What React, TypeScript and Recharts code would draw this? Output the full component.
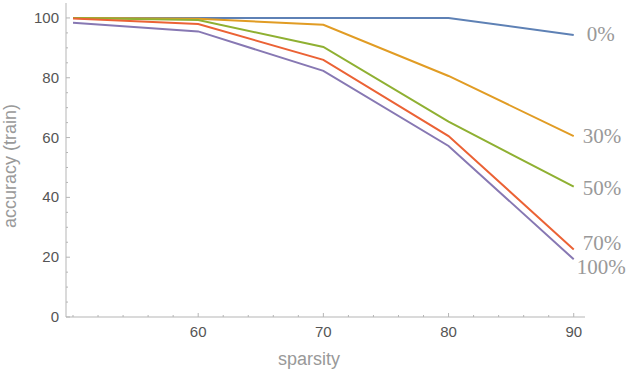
import { LineChart, Line, XAxis, YAxis, LabelList } from 'recharts';

// sparsity levels on the x axis
const sparsity = [50, 60, 70, 80, 90];

// train accuracy per pruning share
const acc0 = [100, 100, 100, 100, 94.3];
const acc30 = [100, 99.7, 97.7, 80.6, 60.5];
const acc50 = [100, 99.3, 90.3, 65.3, 43.6];
const acc70 = [99.8, 98, 86, 60.5, 22.6];
const acc100 = [98.4, 95.5, 82.3, 57.2, 19.3];

const xTicks = [50, 52, 54, 56, 58, 60, 62, 64, 66, 68, 70, 72, 74, 76, 78, 80, 82, 84, 86, 88, 90];
const xMajor = [60, 70, 80, 90];
const yTicks = [0, 5, 10, 15, 20, 25, 30, 35, 40, 45, 50, 55, 60, 65, 70, 75, 80, 85, 90, 95, 100];
const yMajor = [0, 20, 40, 60, 80, 100];

const series = [
  { key: 'p0', name: '0%', values: acc0, color: '#5E81B5', dx: 13, dy: -1 },
  { key: 'p30', name: '30%', values: acc30, color: '#E19C24', dx: 9, dy: 0 },
  { key: 'p50', name: '50%', values: acc50, color: '#8FB032', dx: 9, dy: 1 },
  { key: 'p70', name: '70%', values: acc70, color: '#EB6235', dx: 9, dy: -6 },
  { key: 'p100', name: '100%', values: acc100, color: '#8778B3', dx: 3, dy: 8 },
];

const data = sparsity.map((s, i) => {
  const row: Record<string, number> = { sparsity: s };
  series.forEach((sr) => {
    row[sr.key] = sr.values[i];
  });
  return row;
});

const tickFont = '"Liberation Sans", Arial, sans-serif';

function XTick(props: any) {
  const { x, y, payload } = props;
  const major = xMajor.includes(payload.value);
  return (
    <g>
      <line x1={x} x2={x} y1={y} y2={y - (major ? 4 : 2)} stroke="#b5b5b5" strokeWidth={1} />
      {major && (
        <text x={x} y={y + 20} textAnchor="middle" fontSize={15} fontFamily={tickFont} fill="#555">
          {payload.value}
        </text>
      )}
    </g>
  );
}

function YTick(props: any) {
  const { x, y, payload } = props;
  const major = yMajor.includes(payload.value);
  return (
    <g>
      <line x1={x} x2={x + (major ? 4 : 2)} y1={y} y2={y} stroke="#b5b5b5" strokeWidth={1} />
      {major && (
        <text x={x - 7} y={y + 5} textAnchor="end" fontSize={15} fontFamily={tickFont} fill="#555">
          {payload.value}
        </text>
      )}
    </g>
  );
}

function endLabel(name: string, dx: number, dy: number) {
  return (props: any) => {
    const { x, y, index } = props;
    if (index !== sparsity.length - 1) return null;
    return (
      <text
        x={x + dx}
        y={y + dy + 7}
        fontSize={21}
        fontFamily='"Liberation Serif", "Times New Roman", serif'
        fill="#999"
      >
        {name}
      </text>
    );
  };
}

export default function App() {
  return (
    <div style={{ position: 'absolute', left: 0, top: 0, width: 628, height: 370, background: '#fff' }}>
      <LineChart width={628} height={370} data={data} margin={{ top: 3, right: 43, bottom: 0, left: 0 }}>
        <XAxis
          dataKey="sparsity"
          type="number"
          domain={[49.44, 90.9]}
          allowDataOverflow
          ticks={xTicks}
          interval={0}
          tickSize={0}
          tickMargin={0}
          height={53}
          stroke="#b5b5b5"
          tick={(p: any) => <XTick {...p} />}
        />
        <YAxis
          type="number"
          domain={[0, 105]}
          allowDataOverflow
          ticks={yTicks}
          interval={0}
          tickSize={0}
          tickMargin={0}
          width={66}
          stroke="#b5b5b5"
          tick={(p: any) => <YTick {...p} />}
        />
        {series.map((sr) => (
          <Line
            key={sr.key}
            dataKey={sr.key}
            stroke={sr.color}
            strokeWidth={2}
            dot={false}
            isAnimationActive={false}
          >
            <LabelList dataKey={sr.key} content={endLabel(sr.name, sr.dx, sr.dy)} />
          </Line>
        ))}
        <text x={309} y={365} textAnchor="middle" fontSize={18} fontFamily={tickFont} fill="#999">
          sparsity
        </text>
        <text
          x={16}
          y={166}
          textAnchor="middle"
          fontSize={18}
          fontFamily={tickFont}
          fill="#999"
          transform="rotate(-90 16 166)"
        >
          accuracy (train)
        </text>
      </LineChart>
    </div>
  );
}
